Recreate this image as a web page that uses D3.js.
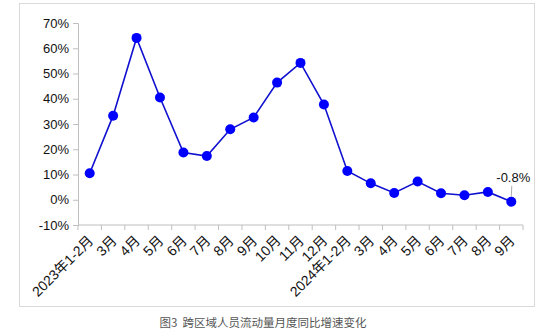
<!DOCTYPE html>
<html><head><meta charset="utf-8">
<script src="https://cdn.jsdelivr.net/npm/d3@7"></script>
<style>body{margin:0;background:#fff;}svg{display:block;}</style>
</head><body>
<script>
const categories = ["2023年1-2月","3月","4月","5月","6月","7月","8月","9月","10月","11月","12月","2024年1-2月","3月","4月","5月","6月","7月","8月","9月"];
const values = [10.5,33.3,64.1,40.5,18.7,17.3,27.9,32.6,46.4,54.2,37.7,11.4,6.5,2.7,7.2,2.6,1.8,3.1,-0.8];
const yTicks = [-10,0,10,20,30,40,50,60,70];
const caption = "图3  跨区域人员流动量月度同比增速变化";
const annotation = "-0.8%";

const W=550,H=331;
const svg=d3.select("body").append("svg").attr("width",W).attr("height",H);
svg.append("rect").attr("x",19.5).attr("y",3.5).attr("width",515).attr("height",303).attr("fill","#fff").attr("stroke","#d9d9d9");

const x=d3.scaleBand().domain(d3.range(categories.length)).range([78,523]);
const y=d3.scaleLinear().domain([-10,70]).range([225,23]);
const font="Liberation Sans, Arial, sans-serif";

// y axis
const ya=svg.append("g").attr("transform","translate(78,0)")
  .call(d3.axisLeft(y).tickValues(yTicks).tickSize(5).tickPadding(4).tickFormat(d=>d+"%"));
ya.select(".domain").attr("stroke","#bfbfbf");
ya.selectAll(".tick line").attr("stroke","#bfbfbf");
ya.selectAll("text").attr("font-family",font).attr("font-size",13).attr("fill","#111");

// x axis
const xa=svg.append("g").attr("transform","translate(0,225)");
xa.append("line").attr("x1",78).attr("x2",523).attr("stroke","#bfbfbf");
const bounds=d3.range(categories.length+1).map(i=>i<categories.length?x(i):x.range()[1]);
xa.selectAll("line.t").data(bounds).enter().append("line").attr("class","t")
  .attr("x1",d=>d).attr("x2",d=>d).attr("y1",0).attr("y2",5).attr("stroke","#bfbfbf");
xa.selectAll("text").data(categories).enter().append("text")
  .attr("transform",(d,i)=>`translate(${x(i)+x.bandwidth()/2+1},${13}) rotate(-45)`)
  .attr("text-anchor","end").attr("dy","0.35em")
  .attr("font-family","Liberation Sans, Arial, 'Noto Sans CJK SC', sans-serif").attr("font-size",14).attr("fill","#111")
  .text(d=>d);

const cx=i=>x(i)+x.bandwidth()/2;
svg.append("path").datum(values)
  .attr("d",d3.line().x((d,i)=>cx(i)).y(d=>y(d)))
  .attr("fill","none").attr("stroke","#1010d0").attr("stroke-width",1.6);
svg.selectAll("circle").data(values).enter().append("circle")
  .attr("cx",(d,i)=>cx(i)).attr("cy",d=>y(d)).attr("r",5).attr("fill","#0000ff");

// annotation
const li=values.length-1;
svg.append("line").attr("x1",cx(li)+0.5).attr("x2",cx(li)).attr("y1",y(values[li])-16).attr("y2",y(values[li])-5)
  .attr("stroke","#999").attr("stroke-width",0.8);
svg.append("text").attr("x",cx(li)+2).attr("y",y(values[li])-20).attr("text-anchor","middle")
  .attr("font-family",font).attr("font-size",13).attr("fill","#111").text(annotation);

svg.append("text").attr("x",263).attr("y",327).attr("text-anchor","middle")
  .attr("font-family","'Noto Sans CJK SC', sans-serif").attr("font-size",11.5).attr("fill","#555")
  .text(caption.replace(/ /g,"\u00a0"));
</script>
</body></html>
